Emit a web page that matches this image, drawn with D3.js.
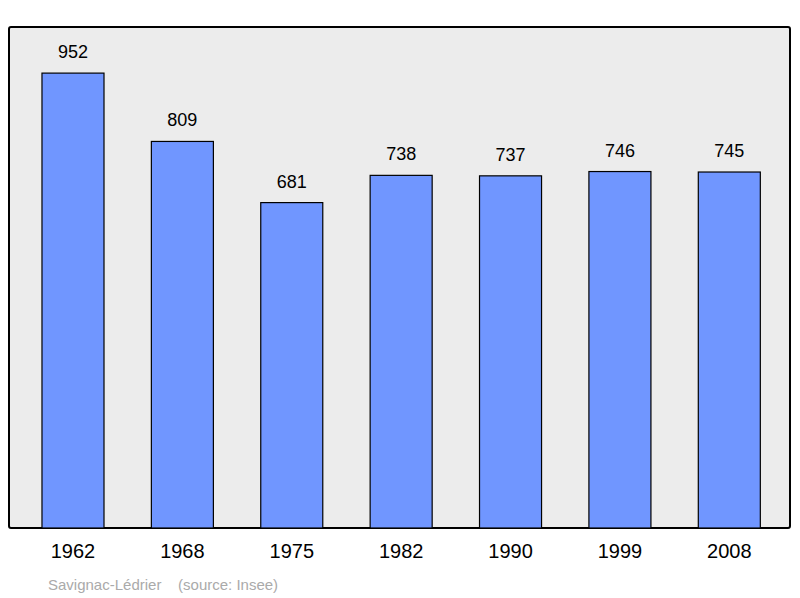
<!DOCTYPE html>
<html><head><meta charset="utf-8">
<script src="https://cdn.jsdelivr.net/npm/d3@7"></script>
<style>body{margin:0;background:#fff}</style></head>
<body><svg id="c" width="800" height="598"></svg>
<script>
const years = ["1962","1968","1975","1982","1990","1999","2008"];
const population = [952,809,681,738,737,746,745];
const sourceText = "Savignac-Lédrier    (source: Insee)";

const svg = d3.select("#c");
const font = "Liberation Sans, Arial, sans-serif";
svg.append("rect").attr("x",9).attr("y",27).attr("width",781).attr("height",501)
  .attr("rx",2).attr("fill","#ececec").attr("stroke","#000").attr("stroke-width",2);

const x = d3.scaleBand().domain(years).range([18.3,784]).paddingInner(0.433).paddingOuter(0.2165);
const y = d3.scaleLinear().domain([0,1048.5]).range([528,27]);

svg.selectAll("rect.bar").data(population).join("rect").attr("class","bar")
  .attr("x",(d,i)=>x(years[i])).attr("width",x.bandwidth())
  .attr("y",d=>y(d)).attr("height",d=>528-y(d))
  .attr("fill","#7096ff").attr("stroke","#000").attr("stroke-width",1.2);

svg.selectAll("text.v").data(population).join("text").attr("class","v")
  .attr("x",(d,i)=>x(years[i])+x.bandwidth()/2).attr("y",d=>y(d)-15)
  .attr("text-anchor","middle").attr("font-family",font).attr("font-size",18).text(d=>d);

const ax = svg.append("g").attr("transform","translate(0,528)")
  .call(d3.axisBottom(x).tickSize(0).tickPadding(16));
ax.select(".domain").remove();
ax.selectAll("text").attr("font-family",font).attr("font-size",20).attr("fill","#000");

svg.append("text").attr("x",48).attr("y",590).attr("font-family",font).attr("font-size",15)
  .attr("fill","#aaa").attr("xml:space","preserve").style("white-space","pre").text(sourceText);
</script></body></html>
